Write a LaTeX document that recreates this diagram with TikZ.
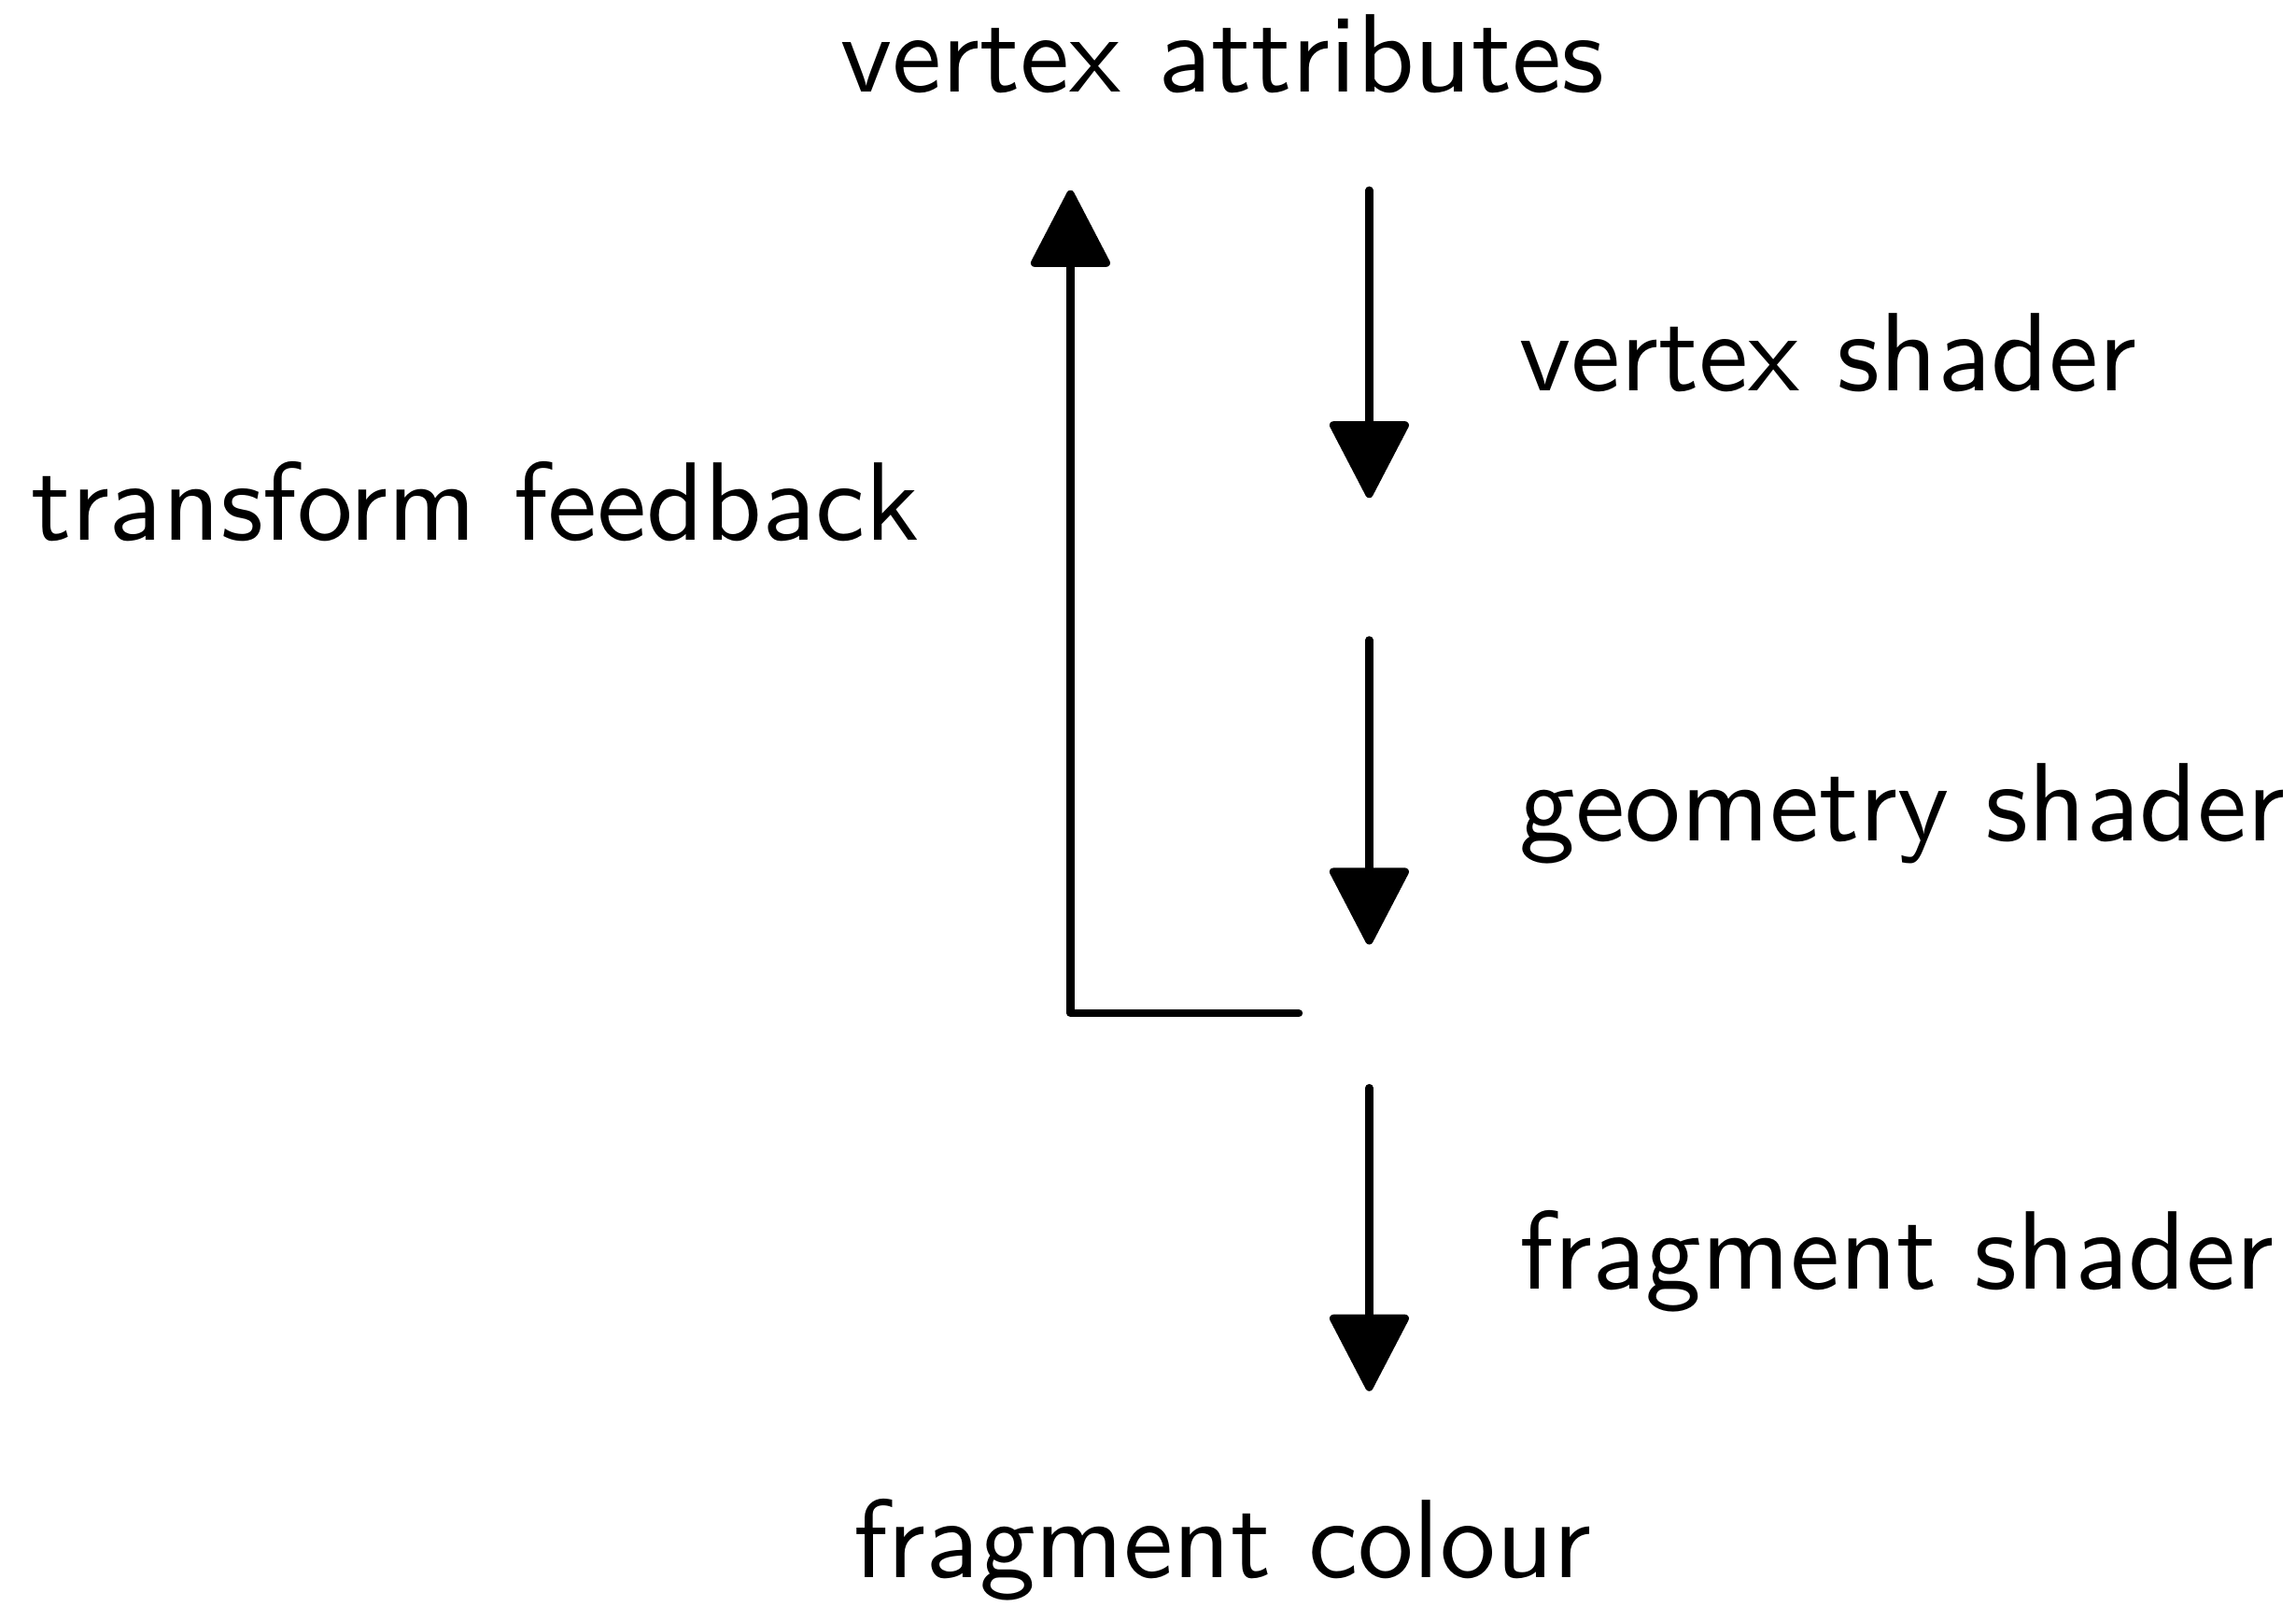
\documentclass[tikz,border=0pt]{standalone}
\usepackage{tikz}
\usetikzlibrary{arrows.meta}

\begin{document}
\begin{tikzpicture}[
  font=\sffamily,
  line width=0.7pt,
  stage/.style={anchor=base, inner sep=0pt},
  shaderlbl/.style={anchor=base west, inner sep=0pt},
  flow/.style={-{Triangle[width=7.4pt, length=7.3pt, round]}, line cap=round, line join=round}
]
  \useasboundingbox (0,0) rectangle (7.239,-5.065);

  \node[stage] (va) at (3.855,-0.290) {vertex attributes};
  \node[stage] (fc) at (3.855,-4.975) {fragment colour};

  % stage points along the pipeline
  \coordinate (v0) at (4.317,-0.600);
  \coordinate (v1) at (4.317,-1.570);
  \coordinate (g0) at (4.317,-2.018);
  \coordinate (g1) at (4.317,-2.978);
  \coordinate (f0) at (4.317,-3.430);
  \coordinate (f1) at (4.317,-4.386);
  \coordinate (tfb) at (4.095,-3.195);
  \coordinate (tft) at (3.375,-0.600);

  \draw[flow] (v0) -- (v1);
  \node[shaderlbl] (vs) at (4.780,-1.231) {vertex shader};
  \draw[flow] (g0) -- (g1);
  \node[shaderlbl] (gs) at (4.780,-2.650) {geometry shader};
  \draw[flow] (f0) -- (f1);
  \node[shaderlbl] (fs) at (4.780,-4.063) {fragment shader};

  \draw[flow] (tfb) -| (tft);
  \node[shaderlbl] (tf) at (0.085,-1.702) {transform feedback};
\end{tikzpicture}
\end{document}
